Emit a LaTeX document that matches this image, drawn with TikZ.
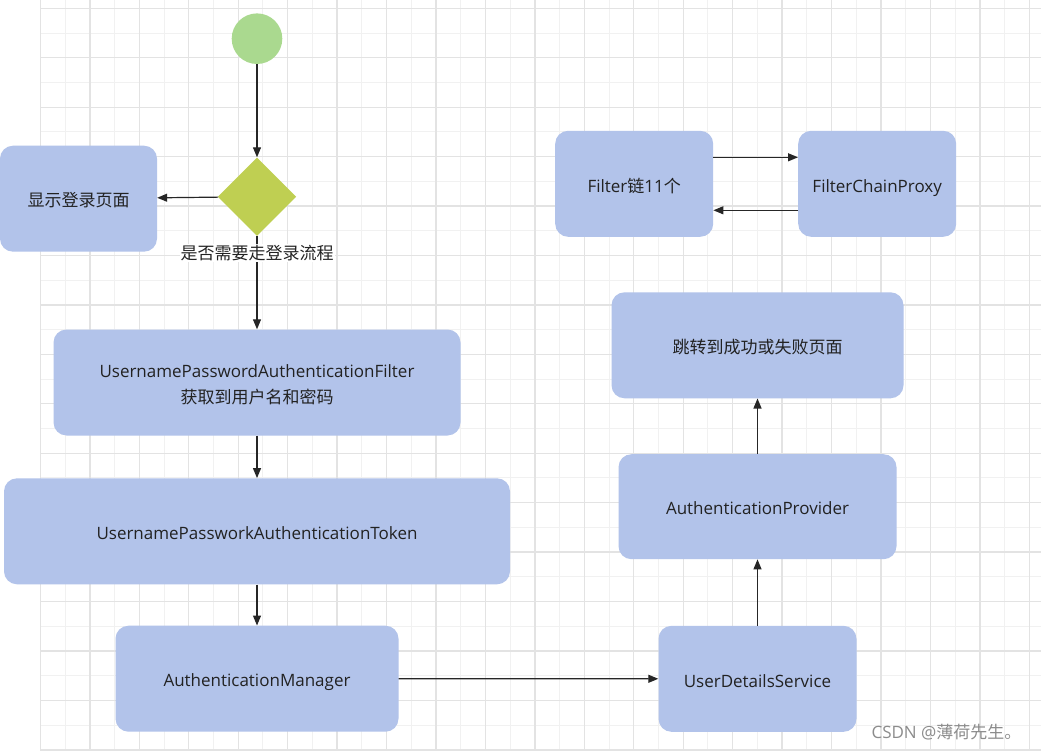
\documentclass[tikz,border=0pt]{standalone}
\usepackage{fontspec}
\setmainfont{Open Sans}
\newfontfamily\cjk{Noto Sans CJK SC}
\usetikzlibrary{shapes.geometric,arrows.meta}

\definecolor{boxblue}{HTML}{B2C3EA}
\definecolor{startgreen}{HTML}{AAD98F}
\definecolor{decisiongreen}{HTML}{BFCF52}
\definecolor{gridlight}{HTML}{F1F1F1}
\definecolor{griddark}{HTML}{E3E3E3}
\definecolor{textdark}{HTML}{222222}

\tikzset{
  stepbox/.style={rectangle, fill=boxblue, rounded corners=13pt, inner sep=0pt,
    text height=17pt, text depth=0.5pt,
    text=textdark, align=center, font=\fontsize{17}{25.5}\selectfont},
  flow/.style={-{Triangle[length=10pt,width=8pt]}, line width=1.2pt, draw=black!85},
}

\begin{document}
\begin{tikzpicture}[x=1pt, y=-1pt]

        \useasboundingbox (0, 0) rectangle (1041, 751);
        \fill[white] (0, 0) rectangle (1041, 751);

        % grid
        \foreach \i in {1, 3, ..., 39}
        \draw[gridlight, line width=1pt] ({40.5 + 24.72*\i}, 0) -- ++(0, 751);
        \foreach \j in {1, 3, ..., 29}
        \draw[gridlight, line width=1pt] (40.5, {8.3 + 24.72*\j}) -- (1041, {8.3 + 24.72*\j});
        \foreach \i in {0, 2, ..., 40}
        \draw[griddark, line width=1.3pt] ({40.5 + 24.72*\i}, 0) -- ++(0, 751);
        \foreach \j in {0, 2, ..., 30}
        \draw[griddark, line width=1.3pt] (40.5, {8.3 + 24.72*\j}) -- (1041, {8.3 + 24.72*\j});

        % left column
        \node[circle, fill=startgreen, minimum size=50.6pt, inner sep=0pt] (start) at (257, 38.7) {};
        \node[diamond, fill=decisiongreen, minimum width=78.4pt, minimum height=78.4pt, inner sep=0pt] (decision) at (257, 196.7) {};
        \node[stepbox, minimum width=157pt, minimum height=106pt] (login) at (78.5, 198.7) {{\cjk 显示登录页面}};
        \node[stepbox, minimum width=407pt, minimum height=106pt, text height=42pt] (filter) at (257, 382.5)
            {UsernamePasswordAuthenticationFilter\\{\cjk 获取到用户名和密码}};
        \node[stepbox, minimum width=506pt, minimum height=106pt] (token) at (257, 531.3) {UsernamePassworkAuthenticationToken};
        \node[stepbox, minimum width=283pt, minimum height=106pt] (manager) at (257, 678.7) {AuthenticationManager};

        % right column
        \node[stepbox, minimum width=198pt, minimum height=106pt] (details) at (757.5, 678.8) {UserDetailsService};
        \node[stepbox, minimum width=278pt, minimum height=105pt] (provider) at (757.5, 506.7) {AuthenticationProvider};
        \node[stepbox, minimum width=292pt, minimum height=106pt] (result) at (757.5, 345.3) {{\cjk 跳转到成功或失败页面}};
        \node[stepbox, minimum width=158pt, minimum height=106pt] (chain) at (634.2, 183.8) {Filter{\cjk 链}11{\cjk 个}};
        \node[stepbox, minimum width=158pt, minimum height=106pt] (proxy) at (877.2, 183.8) {FilterChainProxy};

        \draw[flow] (start) -- (decision);
        \draw[flow] (decision) -- (login);
        \draw[flow] (decision.south) -- (filter.north);
        \draw[flow] (filter) -- (token);
        \draw[flow] (token) -- (manager);
        \draw[flow] (manager) -- (details);
        \draw[flow] (details) -- (provider);
        \draw[flow] (provider) -- (result);
        \draw[flow] ([yshift=26.5pt]chain.east) -- ([yshift=26.5pt]proxy.west);
        \draw[flow] ([yshift=-26.5pt]proxy.west) -- ([yshift=-26.5pt]chain.east);

        \node[fill=white, inner sep=1pt, text=textdark, font=\cjk\fontsize{17}{20}\selectfont] (ask) at (257, 253) {是否需要走登录流程};
        \node[text=black!45, font=\fontsize{17}{20}\selectfont] (mark) at (946.5, 732) {CSDN @{\cjk 薄荷先生。}};

    \end{tikzpicture}
\end{document}
